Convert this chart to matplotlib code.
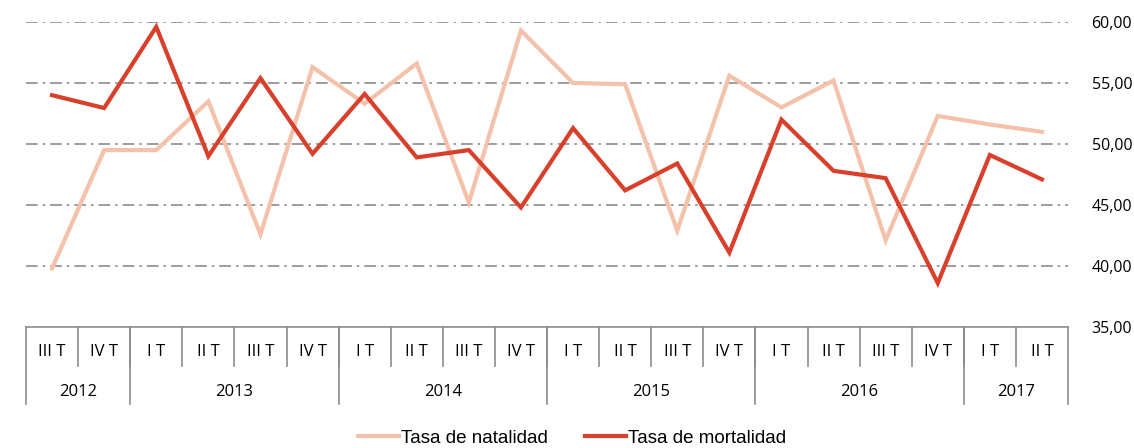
import matplotlib
matplotlib.use("Agg")
import matplotlib.pyplot as plt
from matplotlib.ticker import FuncFormatter
import matplotlib.transforms as mtransforms

quarters = ["III T", "IV T", "I T", "II T", "III T", "IV T", "I T", "II T", "III T", "IV T",
            "I T", "II T", "III T", "IV T", "I T", "II T", "III T", "IV T", "I T", "II T"]
years = ["2012", "2013", "2014", "2015", "2016", "2017"]
year_counts = [2, 4, 4, 4, 4, 2]
natalidad = [39.8, 49.5, 49.5, 53.5, 42.6, 56.3, 53.3, 56.6, 45.2, 59.3,
             55.0, 54.9, 42.9, 55.6, 53.0, 55.2, 42.1, 52.3, 51.6, 51.0]
mortalidad = [54.0, 52.95, 59.6, 49.0, 55.4, 49.2, 54.1, 48.9, 49.5, 44.8,
              51.3, 46.2, 48.4, 41.1, 52.0, 47.8, 47.2, 38.6, 49.1, 47.1]
yticks = [35, 40, 45, 50, 55, 60]

W, H = 1134, 448
fig = plt.figure(figsize=(W / 100, H / 100), dpi=100)
ax_l, ax_r, ax_t, ax_b = 26, 1068, 22, 327
ax = fig.add_axes([ax_l / W, 1 - ax_b / H, (ax_r - ax_l) / W, (ax_b - ax_t) / H])

x = list(range(len(quarters)))
c_nat = "#F4C1AA"
c_mor = "#D9402C"
ln1, = ax.plot(x, natalidad, color=c_nat, lw=3.0, solid_joinstyle="miter", label="Tasa de natalidad", zorder=3)
ln2, = ax.plot(x, mortalidad, color=c_mor, lw=3.0, solid_joinstyle="miter", label="Tasa de mortalidad", zorder=4)

ax.set_xlim(-0.5, len(quarters) - 0.5)
ax.set_ylim(35, 60)
ax.set_yticks(yticks)
ax.yaxis.set_major_formatter(FuncFormatter(lambda v, p: f"{v:.2f}".replace(".", ",")))
ax.yaxis.tick_right()
ax.tick_params(axis="y", length=0, pad=17, labelsize=11.5, labelcolor="#000000")
for lab in ax.get_yticklabels():
    lab.set_family("Open Sans")
ax.set_xticks([])
for s in ["top", "left", "right"]:
    ax.spines[s].set_visible(False)
ax.spines["bottom"].set_color("#8c8c8c")
ax.spines["bottom"].set_linewidth(1.2)

for v in yticks[1:]:
    ax.axhline(v, color="#8c8c8c", lw=1.2, dashes=(7, 3, 1.5, 3), zorder=1)

# category table
trans = mtransforms.blended_transform_factory(ax.transData, ax.transAxes)
axh = ax_b - ax_t
r1 = -(366 - ax_b) / axh
r2 = -(404 - ax_b) / axh
lc = "#8c8c8c"
for i in range(1, len(quarters)):
    ax.plot([i - 0.5, i - 0.5], [0, r1], color=lc, lw=1.2, transform=trans, clip_on=False)
bounds = [-0.5]
for c in year_counts:
    bounds.append(bounds[-1] + c)
for b in bounds:
    ax.plot([b, b], [0, r2], color=lc, lw=1.2, transform=trans, clip_on=False)
ty1 = -(352 - ax_b) / axh
ty2 = -(392 - ax_b) / axh
for i, q in enumerate(quarters):
    ax.text(i, ty1, q, transform=trans, ha="center", va="center", fontsize=12,
            family="Open Sans", color="#000000")
for k, yr in enumerate(years):
    cx = (bounds[k] + bounds[k + 1]) / 2
    ax.text(cx, ty2, yr, transform=trans, ha="center", va="center", fontsize=12,
            family="Open Sans", color="#000000")

leg = fig.legend(handles=[ln1, ln2], loc="center", bbox_to_anchor=(572 / W, 1 - 438 / H),
                 ncol=2, frameon=False, prop={"family": "Liberation Sans", "size": 13.5},
                 handlelength=2.2, handletextpad=0.1, columnspacing=2.0, borderpad=0)

fig.savefig("out.png", dpi=100, facecolor="white")
